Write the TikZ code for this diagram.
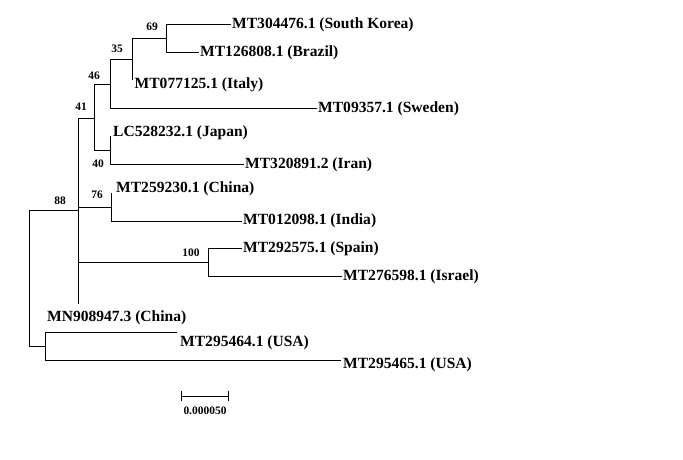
\documentclass[tikz,border=0pt]{standalone}
\usepackage{fontspec}
\setmainfont{Liberation Serif}
\begin{document}
\begin{tikzpicture}[x=1bp,y=-1bp,
  br/.style={line width=0.9bp, draw=black},
  leaf/.style={font=\fontsize{15.6}{18}\selectfont\bfseries, anchor=base west, inner sep=0pt},
  boot/.style={font=\fontsize{11.5}{13}\selectfont\bfseries, inner sep=0pt},
]
\useasboundingbox[fill=white] (0,0) rectangle (683,460);
% internal nodes
\coordinate (root) at (29,278);
\coordinate (n88) at (78,210);
\coordinate (nusa) at (45,346);
\coordinate (n41) at (94,118);
\coordinate (n76) at (111,207);
\coordinate (n100) at (208,262);
\coordinate (n46) at (110,84);
\coordinate (n40) at (110,150);
\coordinate (n35) at (132.5,59);
\coordinate (n69) at (166,38);
% leaves
\coordinate (mn) at (78,304);
\coordinate (sweden) at (317,108);
\coordinate (italy) at (132.5,80);
\coordinate (korea) at (231,24);
\coordinate (brazil) at (199,52);
\coordinate (japan) at (110,136);
\coordinate (iran) at (244,164);
\coordinate (china1) at (111,193);
\coordinate (india) at (242,221);
\coordinate (spain) at (242,248);
\coordinate (israel) at (342,276);
\coordinate (usa1) at (177,332);
\coordinate (usa2) at (341,360);
% branches
\draw[br] (root) |- (n88);
\draw[br] (root) |- (nusa);
\draw[br] (n88) |- (n41);
\draw[br] (n88) |- (n76);
\draw[br] (n88) |- (n100);
\draw[br] (n88) |- (mn);
\draw[br] (n41) |- (n46);
\draw[br] (n41) |- (n40);
\draw[br] (n46) |- (n35);
\draw[br] (n46) |- (sweden);
\draw[br] (n35) |- (n69);
\draw[br] (n35) |- (italy);
\draw[br] (n69) |- (korea);
\draw[br] (n69) |- (brazil);
\draw[br] (n40) |- (japan);
\draw[br] (n40) |- (iran);
\draw[br] (n76) |- (china1);
\draw[br] (n76) |- (india);
\draw[br] (n100) |- (spain);
\draw[br] (n100) |- (israel);
\draw[br] (nusa) |- (usa1);
\draw[br] (nusa) |- (usa2);
% leaf labels
\node[leaf] (lkorea) at (232,29) {MT304476.1 (South Korea)};
\node[leaf] (lbrazil) at (200,57) {MT126808.1 (Brazil)};
\node[leaf] (litaly) at (134.5,89) {MT077125.1 (Italy)};
\node[leaf] (lsweden) at (318,113) {MT09357.1 (Sweden)};
\node[leaf] (ljapan) at (113,137) {LC528232.1 (Japan)};
\node[leaf] (liran) at (245,169) {MT320891.2 (Iran)};
\node[leaf] (lchina1) at (116,193) {MT259230.1 (China)};
\node[leaf] (lindia) at (243,225) {MT012098.1 (India)};
\node[leaf] (lspain) at (243,253) {MT292575.1 (Spain)};
\node[leaf] (lisrael) at (343,281) {MT276598.1 (Israel)};
\node[leaf] (lmn) at (47,322) {MN908947.3 (China)};
\node[leaf] (lusa1) at (180,346) {MT295464.1 (USA)};
\node[leaf] (lusa2) at (343,368) {MT295465.1 (USA)};
% bootstrap values
\node[boot] (b69) at (152,27) {69};
\node[boot] (b35) at (117,49) {35};
\node[boot] (b46) at (94,76) {46};
\node[boot] (b41) at (81,107) {41};
\node[boot] (b40) at (98,164) {40};
\node[boot] (b76) at (97,195) {76};
\node[boot] (b88) at (60,201) {88};
\node[boot] (b100) at (191,253) {100};
% scale bar
\coordinate (sb1) at (181,396);
\coordinate (sb2) at (228,396);
\draw[br] (sb1) -- (sb2);
\draw[br] ([yshift=-5bp]sb1) -- ([yshift=5bp]sb1);
\draw[br] ([yshift=-5bp]sb2) -- ([yshift=5bp]sb2);
\node[boot] (sblabel) at (205,411) {0.000050};
\end{tikzpicture}
\end{document}
